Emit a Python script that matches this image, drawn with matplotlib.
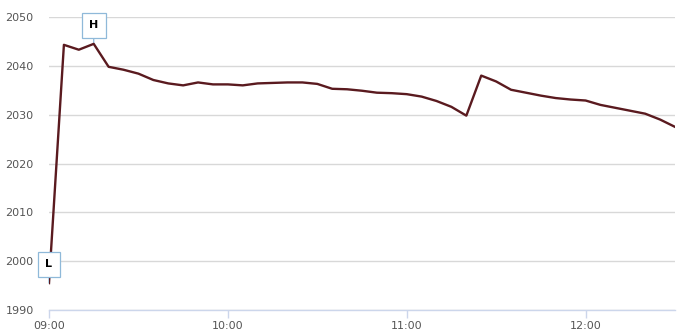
import matplotlib.pyplot as plt
import numpy as np

# 5-minute intraday prices
times = ['09:00', '09:05', '09:10', '09:15', '09:20', '09:25', '09:30', '09:35', '09:40', '09:45',
         '09:50', '09:55', '10:00', '10:05', '10:10', '10:15', '10:20', '10:25', '10:30', '10:35',
         '10:40', '10:45', '10:50', '10:55', '11:00', '11:05', '11:10', '11:15', '11:20', '11:25',
         '11:30', '11:35', '11:40', '11:45', '11:50', '11:55', '12:00', '12:05', '12:10', '12:15',
         '12:20', '12:25', '12:30']
prices = [1995.5, 2044.3, 2043.3, 2044.5, 2039.8, 2039.2, 2038.4, 2037.1, 2036.4, 2036.0,
          2036.6, 2036.2, 2036.2, 2036.0, 2036.4, 2036.5, 2036.6, 2036.6, 2036.3, 2035.3,
          2035.2, 2034.9, 2034.5, 2034.4, 2034.2, 2033.7, 2032.8, 2031.6, 2029.8, 2038.0,
          2036.8, 2035.1, 2034.5, 2033.9, 2033.4, 2033.1, 2032.9, 2032.0, 2031.4, 2030.8,
          2030.2, 2029.0, 2027.5]
y_ticks = [1990, 2000, 2010, 2020, 2030, 2040, 2050]
x_ticks = ['09:00', '10:00', '11:00', '12:00']


def to_min(t):
    h, m = t.split(':')
    return (int(h) - 9) * 60 + int(m)


x = np.array([to_min(t) for t in times])
y = np.array(prices)

W, H = 683, 336
fig = plt.figure(figsize=(W / 100, H / 100), dpi=100)
ax = fig.add_axes([49 / W, (H - 310) / H, (675 - 49) / W, (310 - 17) / H])

ax.plot(x, y, color='#5a1a1f', lw=1.7, zorder=3)

ax.set_xlim(0, x[-1])
ax.set_ylim(y_ticks[0], y_ticks[-1])

# grid
ax.set_yticks(y_ticks)
ax.yaxis.grid(True, color='#d8d8d8', lw=1)
ax.set_axisbelow(True)
ax.tick_params(axis='y', length=0, pad=11, labelsize=8, labelcolor='#555555')

ax.set_xticks([to_min(t) for t in x_ticks])
ax.set_xticklabels(x_ticks)
ax.tick_params(axis='x', length=6, width=1, color='#ccd6eb', pad=2, labelsize=8, labelcolor='#555555')

for s in ['top', 'right', 'left']:
    ax.spines[s].set_visible(False)
ax.spines['bottom'].set_color('#ccd6eb')
ax.spines['bottom'].set_linewidth(1)

# high / low flags
i_hi = int(np.argmax(y))
i_lo = int(np.argmin(y))
for i, lab in [(i_hi, 'H'), (i_lo, 'L')]:
    # connector below the series line
    ax.annotate('', xy=(x[i], y[i]), xytext=(0, 13.5), textcoords='offset points',
                arrowprops=dict(arrowstyle='-', color='#8fb9d9', lw=0.9, shrinkA=0, shrinkB=0),
                zorder=2, annotation_clip=False)
    ax.annotate(lab, xy=(x[i], y[i]), xytext=(0, 13.5), textcoords='offset points',
                ha='center', va='center', fontsize=8, fontweight='bold', color='black',
                bbox=dict(boxstyle='square,pad=0.68', fc='white', ec='#8fb9d9', lw=0.9),
                zorder=5, annotation_clip=False)

fig.savefig('out.png', dpi=100)
